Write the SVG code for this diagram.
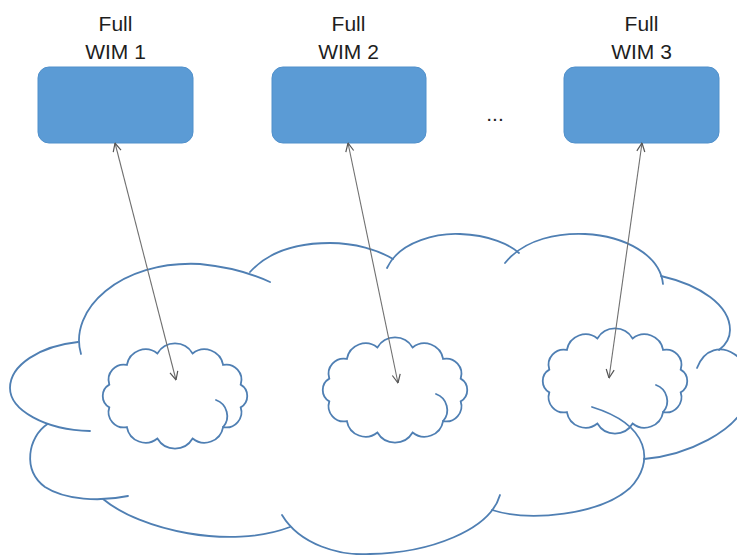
<svg xmlns="http://www.w3.org/2000/svg" width="737" height="555" viewBox="0 0 737 555">
  <style>
    .box { fill: #5b9bd5; stroke: #5090cb; stroke-width: 1; }
    .label { font-family: "Liberation Sans", Arial, sans-serif; font-size: 21px; fill: #1e1e1e; text-anchor: middle; }
    .cloud { fill: none; stroke: #4f7fb3; stroke-width: 1.8; stroke-linecap: round; }
    .link { stroke: #707070; stroke-width: 1.1; fill: none; marker-start: url(#tip); marker-end: url(#tip); }
  </style>
  <defs>
    <marker id="tip" viewBox="0 0 10 10" refX="9.5" refY="5" markerWidth="10" markerHeight="10" markerUnits="userSpaceOnUse" orient="auto-start-reverse">
      <path d="M1,1 L9.5,5 L1,9" fill="none" stroke="#555" stroke-width="1.2"/>
    </marker>
    <!-- small bumpy cloud centred on the origin -->
    <g id="puff">
      <path class="cloud" d="M65.7,-11.4 A13.2,13.2 0 0 1 65.7,11.4 A15.3,15.3 0 0 1 48.1,31.1 A18.9,18.9 0 0 1 17.6,42.5 A20.4,20.4 0 0 1 -17.6,42.5 A18.9,18.9 0 0 1 -48.1,31.1 A15.3,15.3 0 0 1 -65.7,11.4 A13.2,13.2 0 0 1 -65.7,-11.4 A15.3,15.3 0 0 1 -48.1,-31.1 A18.9,18.9 0 0 1 -17.6,-42.5 A20.4,20.4 0 0 1 17.6,-42.5 A18.9,18.9 0 0 1 48.1,-31.1 A15.3,15.3 0 0 1 65.7,-11.4 Z"/>
      <path class="cloud" d="M41,4 A17,17 0 0 1 48.1,31.1"/>
    </g>
  </defs>

  <rect width="737" height="555" fill="#ffffff"/>

  <!-- large network cloud -->
  <g id="network">
    <path class="cloud" d="M78,342 C40,346 10,365 10,388 C10,410 45,430 90,431"/>
    <path class="cloud" d="M47.5,424 C28,437 22,470 45,487 C65,500 100,502 128,496"/>
    <path class="cloud" d="M103,499 C140,530 230,550 290,527"/>
    <path class="cloud" d="M282,515 C300,545 340,556 370,554 C430,553 490,530 500,495"/>
    <path class="cloud" d="M492,510 C530,522 600,515 630,488 C655,462 650,425 592,407"/>
    <path class="cloud" d="M697,368 C712,328 765,358 745,405 C735,430 690,455 644,459"/>
    <path class="cloud" d="M661,276 C700,285 730,305 730,330 C730,338 727,344 719,350"/>
    <path class="cloud" d="M505,263 C525,238 560,233 585,234 C625,236 660,255 663,284"/>
    <path class="cloud" d="M387,268 C400,240 440,233 460,234 C490,235 510,245 519,253"/>
    <path class="cloud" d="M250,272 C270,250 300,243 330,243 C355,243 378,250 393,259"/>
    <path class="cloud" d="M81,354 C68,310 120,260 200,264 C230,267 255,275 270,282"/>
  </g>

  <g id="site1"><use href="#puff" transform="translate(175,396)"/></g>
  <g id="site2"><use href="#puff" transform="translate(395,390)"/></g>
  <g id="site3"><use href="#puff" transform="translate(615,381)"/></g>

  <g id="wim1">
    <rect class="box" x="38" y="67" width="155" height="76" rx="11"/>
    <text class="label" x="115.5" y="31">Full</text>
    <text class="label" x="115.5" y="59">WIM 1</text>
  </g>
  <g id="wim2">
    <rect class="box" x="272" y="67" width="154" height="76" rx="11"/>
    <text class="label" x="348.5" y="31">Full</text>
    <text class="label" x="348.5" y="59">WIM 2</text>
  </g>
  <g id="wim3">
    <rect class="box" x="564" y="67" width="155" height="76" rx="11"/>
    <text class="label" x="641.5" y="31">Full</text>
    <text class="label" x="641.5" y="59">WIM 3</text>
  </g>
  <text class="label" x="495" y="121">...</text>

  <g id="links">
    <line class="link" x1="115" y1="143" x2="176" y2="380"/>
    <line class="link" x1="348" y1="143" x2="398" y2="383"/>
    <line class="link" x1="642" y1="143" x2="609" y2="378"/>
  </g>
</svg>
